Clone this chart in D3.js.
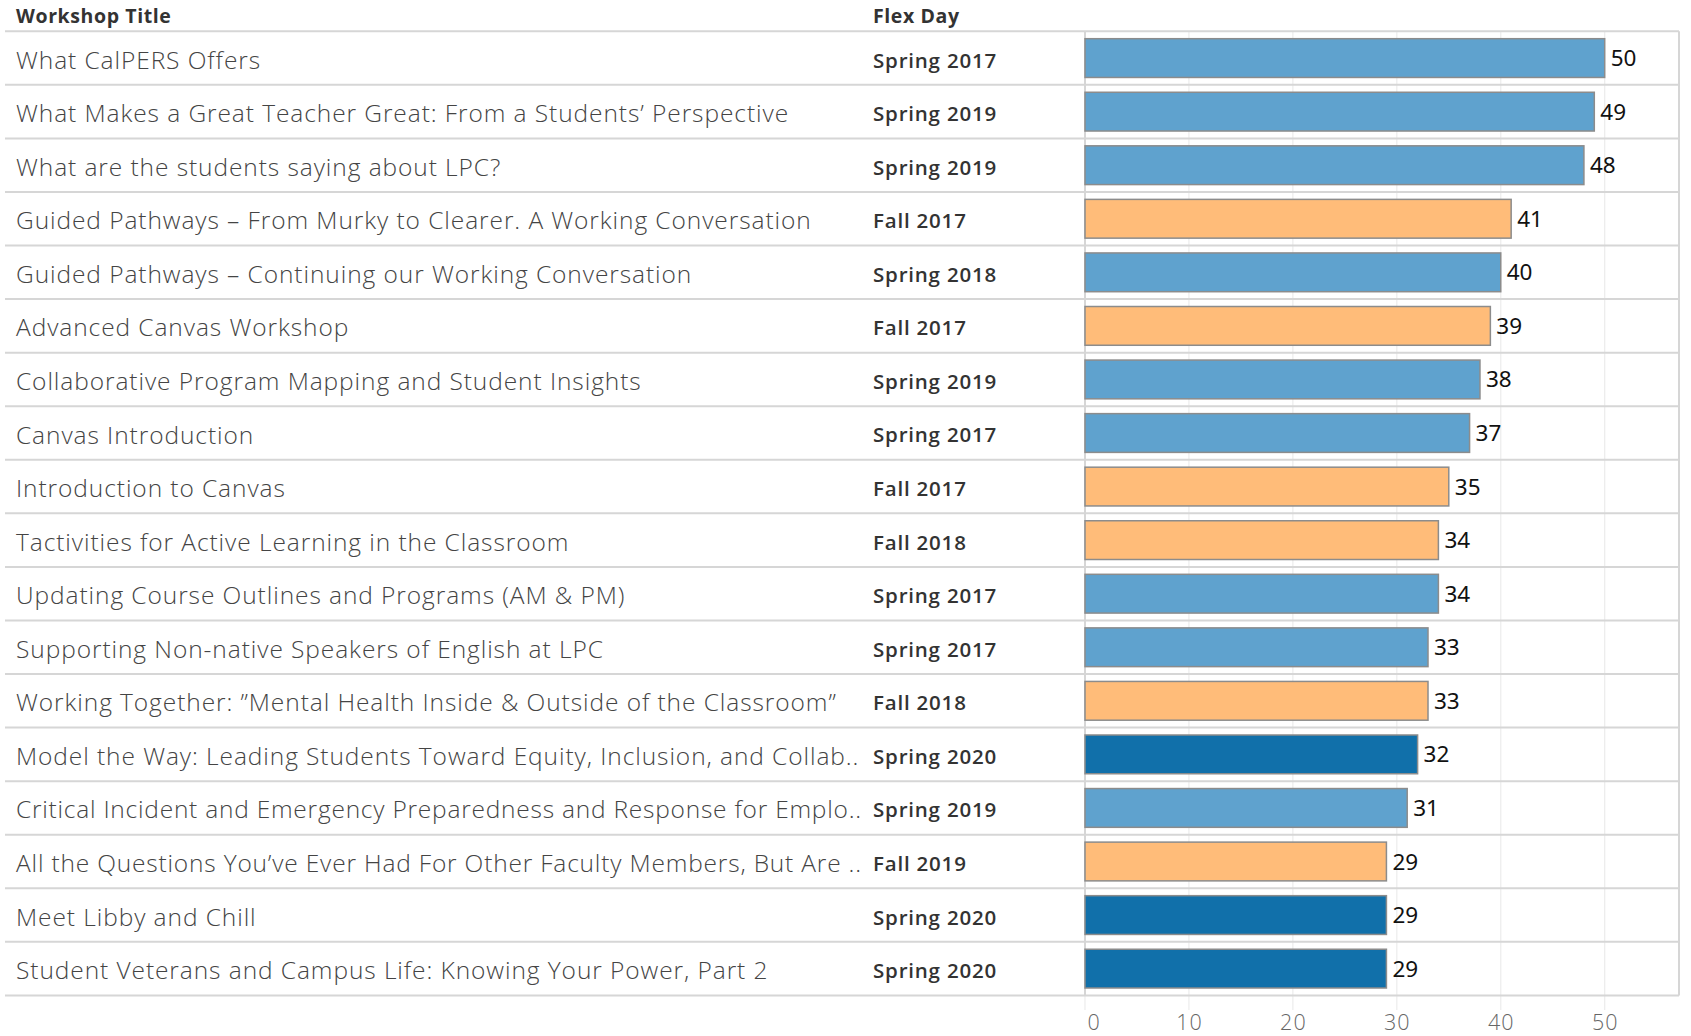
<!DOCTYPE html>
<html><head><meta charset="utf-8">
<script src="https://cdn.jsdelivr.net/npm/d3@7"></script>
<style>
html,body{margin:0;padding:0;background:#fff;}
svg{display:block;}
</style></head>
<body>
<svg id="chart" width="1691" height="1036"></svg>
<script>
const titles = [
  "What CalPERS Offers",
  "What Makes a Great Teacher Great: From a Students\u2019 Perspective",
  "What are the students saying about LPC?",
  "Guided Pathways \u2013 From Murky to Clearer. A Working Conversation",
  "Guided Pathways \u2013 Continuing our Working Conversation",
  "Advanced Canvas Workshop",
  "Collaborative Program Mapping and Student Insights",
  "Canvas Introduction",
  "Introduction to Canvas",
  "Tactivities for Active Learning in the Classroom",
  "Updating Course Outlines and Programs (AM & PM)",
  "Supporting Non-native Speakers of English at LPC",
  "Working Together: \u201dMental Health Inside & Outside of the Classroom\u201d",
  "Model the Way: Leading Students Toward Equity, Inclusion, and Collab..",
  "Critical Incident and Emergency Preparedness and Response for Emplo..",
  "All the Questions You\u2019ve Ever Had For Other Faculty Members, But Are ..",
  "Meet Libby and Chill",
  "Student Veterans and Campus Life: Knowing Your Power, Part 2"
];
const flexDays = [
  "Spring 2017","Spring 2019","Spring 2019","Fall 2017","Spring 2018","Fall 2017",
  "Spring 2019","Spring 2017","Fall 2017","Fall 2018","Spring 2017","Spring 2017",
  "Fall 2018","Spring 2020","Spring 2019","Fall 2019","Spring 2020","Spring 2020"
];
const attendance = [50,49,48,41,40,39,38,37,35,34,34,33,33,32,31,29,29,29];
const xTicks = [0,10,20,30,40,50];
const columnHeaders = ["Workshop Title","Flex Day"];

const colorFor = d => d.startsWith("Fall") ? "#ffbc79" : (d === "Spring 2020" ? "#1170aa" : "#5fa2ce");

const data = titles.map((t,i)=>({title:t, flex:flexDays[i], value:attendance[i]}));

const svg = d3.select("#chart");
const yTop = 31.3, yBottom = 995.4;
const paneL = 1085, paneR = 1679;
const titleMaxW = 846;

const y = d3.scaleBand().domain(d3.range(data.length)).range([yTop,yBottom]).paddingInner(0).paddingOuter(0);
const x = d3.scaleLinear().domain([0,50]).range([paneL, 1604.7]);
const barPad = 7.4, barH = y.bandwidth() - 2*barPad;

const font = "'Open Sans', sans-serif";

// headers
svg.append("text").attr("x",16).attr("y",23).text(columnHeaders[0])
  .attr("font-family",font).attr("font-weight",700).attr("font-size",19.5).attr("letter-spacing",0.6).attr("fill","#333");
svg.append("text").attr("x",873).attr("y",23).text(columnHeaders[1])
  .attr("font-family",font).attr("font-weight",700).attr("font-size",19.5).attr("letter-spacing",0.6).attr("fill","#333");

// gridlines (including extension to tick area)
svg.append("g").selectAll("line").data(xTicks.slice(1)).join("line")
  .attr("x1",d=>x(d)).attr("x2",d=>x(d)).attr("y1",yTop).attr("y2",1010)
  .attr("stroke","#ececec").attr("stroke-width",1.2);
svg.append("line").attr("x1",paneL).attr("x2",paneL).attr("y1",yBottom).attr("y2",1010)
  .attr("stroke","#ececec").attr("stroke-width",1.2);

// row separators
const seps = d3.range(data.length+1).map(i=> i<data.length ? y(i) : yBottom);
svg.append("g").selectAll("line").data(seps).join("line")
  .attr("x1",5).attr("x2",paneR).attr("y1",d=>d).attr("y2",d=>d)
  .attr("stroke","#d6d6d6").attr("stroke-width",2);

// pane borders
svg.append("line").attr("x1",paneL).attr("x2",paneL).attr("y1",yTop).attr("y2",yBottom)
  .attr("stroke","#d6d6d6").attr("stroke-width",2);
svg.append("line").attr("x1",paneR).attr("x2",paneR).attr("y1",yTop).attr("y2",yBottom)
  .attr("stroke","#d6d6d6").attr("stroke-width",2);

const rows = svg.append("g").selectAll("g").data(data).join("g");

rows.append("text").attr("x",16).attr("y",(d,i)=>y(i)+y.bandwidth()/2+4)
  .attr("dominant-baseline","middle").text(d=>d.title)
  .attr("font-family",font).attr("font-weight",300).attr("font-size",24.5).attr("letter-spacing",0.92).attr("fill","#444")
  .each(function(){
    const w = this.getComputedTextLength();
    if (w > titleMaxW) d3.select(this).attr("textLength",titleMaxW).attr("lengthAdjust","spacing");
  });

rows.append("text").attr("x",873).attr("y",(d,i)=>y(i)+y.bandwidth()/2+4)
  .attr("dominant-baseline","middle").text(d=>d.flex)
  .attr("font-family",font).attr("font-weight",600).attr("font-size",20.5).attr("letter-spacing",0.8).attr("fill","#333");

rows.append("rect").attr("x",x(0)).attr("y",(d,i)=>y(i)+barPad)
  .attr("width",d=>x(d.value)-x(0)).attr("height",barH)
  .attr("fill",d=>colorFor(d.flex)).attr("stroke","#8c8c8c").attr("stroke-width",1.5);

rows.append("text").attr("x",d=>x(d.value)+6).attr("y",(d,i)=>y(i)+y.bandwidth()/2+2)
  .attr("dominant-baseline","middle").text(d=>d.value)
  .attr("font-family","'Noto Sans', sans-serif").attr("font-size",22.5).attr("fill","#111");

// axis
const axis = d3.axisBottom(x).tickValues(xTicks).tickSize(0).tickPadding(0);
const ax = svg.append("g").attr("transform",`translate(0,${1024})`).call(axis);
ax.select(".domain").remove();
ax.selectAll("text").attr("y",0).attr("dy",null).attr("dominant-baseline","middle")
  .attr("font-family",font).attr("font-weight",300).attr("font-size",21.5).attr("letter-spacing",1).attr("fill","#666");
ax.selectAll(".tick").filter(d=>d===0).select("text").attr("text-anchor","start").attr("x",2);
</script>
</body></html>
